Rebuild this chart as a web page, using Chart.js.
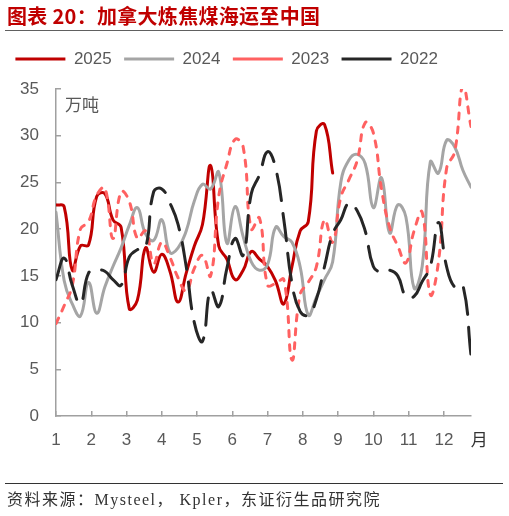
<!DOCTYPE html>
<html>
<head>
<meta charset="utf-8">
<script src="https://cdn.jsdelivr.net/npm/chart.js@4.4.1/dist/chart.umd.min.js"></script>
<style>
  body { margin: 0; background: #fff; }
  #wrap { position: relative; width: 509px; height: 516px; overflow: hidden; }
  #chart { position: absolute; left: 0; top: 0; }
  .title { position: absolute; left: 7px; top: 2px; font: bold 20px "Noto Sans CJK SC", sans-serif; color: #c00000; letter-spacing: 0.3px; line-height: 28px; }
  .rule-top { position: absolute; left: 5px; top: 30px; width: 498px; border-top: 1.5px solid #606060; }
  .rule-bottom { position: absolute; left: 5px; top: 483px; width: 498px; border-top: 1px solid #333; }
  .source { position: absolute; left: 7px; top: 489px; font: 16px "Liberation Serif", "Noto Sans CJK SC", serif; color: #333; letter-spacing: 1.5px; line-height: 22px; }
</style>
</head>
<body>
<div id="wrap">
  <canvas id="chart" width="509" height="516"></canvas>
  <div class="title">图表 20：加拿大炼焦煤海运至中国</div>
  <div class="rule-top"></div>
  <div class="rule-bottom"></div>
  <div class="source">资料来源：Mysteel， Kpler，东证衍生品研究院</div>
</div>
<script>
// weekly data, week 0 = start of January
const weeks = Array.from({ length: 52 }, (_, i) => i);
const monthLabels = ['1', '2', '3', '4', '5', '6', '7', '8', '9', '10', '11', '12'];
const monthTicks = monthLabels.map((m, i) => i * 52 / 12);
const yTicks = [0, 5, 10, 15, 20, 25, 30, 35];
const unitLabel = '万吨';
const monthUnit = '月';

const y2025 = [22.6, 22.4, 15.6, 18.2, 18.3, 23.5, 23.8, 21.0, 20.2, 11.5,
  12.4, 18.0, 15.4, 17.3, 15.5, 12.2, 15.3, 18.2, 20.5, 26.8,
  18.2, 16.8, 14.6, 15.6, 17.6, 16.8, 16.0, 14.4, 12.0, 16.0,
  19.8, 20.8, 30.5, 31.2, 26.0];
const y2024 = [21.8, 14.5, 12.0, 10.7, 14.3, 11.0, 13.8, 16.0, 18.0, 20.4,
  22.3, 19.5, 18.8, 21.0, 17.5, 18.0, 19.8, 23.0, 24.8, 24.3,
  26.1, 18.5, 22.4, 19.2, 16.5, 15.6, 16.2, 20.2, 19.2, 18.6,
  16.0, 10.8, 12.7, 14.6, 16.5, 25.0, 27.4, 28.0, 27.0, 22.3,
  25.5, 19.6, 22.6, 21.3, 13.7, 16.0, 27.2, 26.0, 29.5, 28.8,
  26.3, 24.5];
const y2023 = [9.9, 11.8, 14.0, 20.0, 20.8, 23.6, 24.4, 19.0, 24.0, 23.0,
  19.0, 19.8, 16.3, 18.6, 17.0, 14.8, 13.4, 15.8, 17.2, 15.0,
  23.5, 27.0, 29.6, 28.8, 20.0, 21.2, 14.0, 14.2, 14.6, 6.0,
  13.0, 14.3, 16.0, 21.0, 18.6, 23.4, 25.3, 27.3, 31.4, 30.3,
  24.3, 20.2, 18.2, 16.4, 19.8, 21.8, 13.0, 16.5, 26.5, 28.3,
  35.3, 31.0];
const y2022 = [14.6, 16.9, 14.0, 12.0, 15.3, 15.6, 15.5, 14.6, 14.0, 17.0,
  17.8, 18.0, 24.0, 24.3, 22.8, 20.5, 16.0, 10.0, 8.0, 13.5,
  11.7, 15.8, 19.0, 17.2, 23.8, 25.8, 28.3, 26.5, 21.0, 14.2,
  11.2, 10.8, 12.5, 16.0, 19.5, 21.0, 22.8, 22.0, 19.8, 16.0,
  15.4, 15.6, 15.0, 12.8, 12.8, 14.4, 16.0, 20.7, 16.0, 13.8,
  14.0, 6.5];

const gray = '#595959';
const tickFont = { family: '"Liberation Sans", Arial, sans-serif', size: 17 };

// leave room between the legend row and the top of the plot
const legendGap = {
  id: 'legendGap',
  beforeLayout(chart) {
    const lg = chart.legend;
    if (lg && !lg._gapPatched) {
      const fit = lg.fit;
      lg.fit = function () { fit.call(this); this.height = 51; };
      lg._gapPatched = true;
    }
  }
};

const extraText = {
  id: 'extraText',
  afterDraw(chart) {
    const { ctx, chartArea, scales } = chart;
    ctx.save();
    ctx.fillStyle = gray;
    ctx.font = '17px "Noto Sans CJK SC"';
    ctx.textBaseline = 'middle';
    ctx.fillText(unitLabel, chartArea.left + 9, chartArea.top + 16);
    ctx.fillStyle = '#333';
    ctx.textAlign = 'center';
    ctx.fillText(monthUnit, scales.x.getPixelForValue(52), scales.x.top + 24);
    ctx.restore();
  }
};

function line(label, data, color, dash, order) {
  return {
    label, data,
    borderColor: color,
    backgroundColor: color,
    borderWidth: 3,
    borderDash: dash,
    borderCapStyle: 'round',
    pointRadius: 0,
    tension: 0.45,
    fill: false,
    order
  };
}

new Chart(document.getElementById('chart'), {
  type: 'line',
  data: {
    labels: weeks,
    datasets: [
      line('2025', y2025, '#c00000', [], 3),
      line('2024', y2024, '#a5a5a5', [], 2),
      line('2023', y2023, '#ff6161', [6, 8], 1),
      line('2022', y2022, '#262626', [27, 13], 0)
    ]
  },
  options: {
    responsive: false,
    animation: false,
    layout: { padding: { top: 38, left: 3, right: 38, bottom: 0 } },
    plugins: {
      tooltip: { enabled: false },
      legend: {
        position: 'top',
        align: 'start',
        labels: {
          usePointStyle: true,
          pointStyle: 'line',
          pointStyleWidth: 50,
          padding: 12.4,
          color: gray,
          font: tickFont,
          sort: (a, b) => a.datasetIndex - b.datasetIndex
        }
      }
    },
    scales: {
      x: {
        type: 'linear',
        min: 0,
        max: 51,
        afterFit: s => { s.height = 100; },
        afterBuildTicks: s => { s.ticks = monthTicks.map(v => ({ value: v })); },
        grid: { drawOnChartArea: false, drawTicks: true, tickLength: -5, color: '#a0a0a0', lineWidth: 1.5 },
        border: { display: true, color: '#a0a0a0', width: 1.5 },
        ticks: {
          padding: 19,
          maxRotation: 0,
          autoSkip: false,
          color: gray,
          font: tickFont,
          callback: (v, i) => monthLabels[i]
        }
      },
      y: {
        min: 0,
        max: 35,
        afterFit: s => { s.width = 53; },
        afterBuildTicks: s => { s.ticks = yTicks.map(v => ({ value: v })); },
        grid: { drawOnChartArea: false, drawTicks: true, tickLength: -5, color: '#a0a0a0', lineWidth: 1.5 },
        border: { display: true, color: '#a0a0a0', width: 1.5 },
        ticks: { padding: 22, color: gray, font: tickFont }
      }
    }
  },
  plugins: [legendGap, extraText]
});
</script>
</body>
</html>
